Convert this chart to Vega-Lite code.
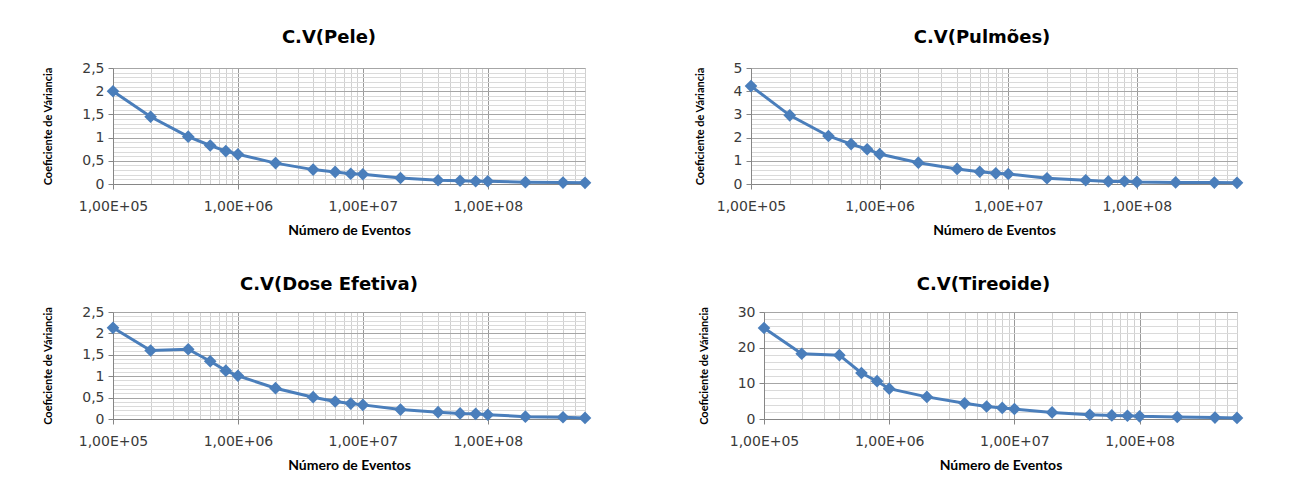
{
  "$schema": "https://vega.github.io/schema/vega-lite/v6.json",
  "background": "white",
  "padding": {"left": 42, "top": 28, "right": 5, "bottom": 5},
  "config": {
    "view": {"stroke": "#bfbfbf", "strokeWidth": 1},
    "title": {"font": "DejaVu Sans", "fontSize": 18, "fontWeight": "bold", "color": "#000000", "anchor": "middle", "offset": 14},
    "axis": {
      "labelFont": "DejaVu Sans", "labelFontSize": 14, "labelColor": "#3a3a3a",
      "titleFont": "Lato", "titleFontWeight": "bold", "titleColor": "#000000",
      "domainColor": "#868686", "tickColor": "#868686", "tickSize": 5,
      "labelOverlap": false, "labelBound": false, "labelFlush": false, "gridWidth": 1
    },
    "axisX": {"titleFontSize": 14, "labelPadding": 10, "titlePadding": 10},
    "axisY": {"titleFontSize": 11, "labelPadding": 4, "titlePadding": 28}
  },
  "data": {"values": [
    {"orgao": "Pele", "eventos": 100000, "cv": 2.0},
    {"orgao": "Pele", "eventos": 200000, "cv": 1.45},
    {"orgao": "Pele", "eventos": 400000, "cv": 1.02},
    {"orgao": "Pele", "eventos": 600000, "cv": 0.83},
    {"orgao": "Pele", "eventos": 800000, "cv": 0.71},
    {"orgao": "Pele", "eventos": 1000000, "cv": 0.64},
    {"orgao": "Pele", "eventos": 2000000, "cv": 0.45},
    {"orgao": "Pele", "eventos": 4000000, "cv": 0.31},
    {"orgao": "Pele", "eventos": 6000000, "cv": 0.26},
    {"orgao": "Pele", "eventos": 8000000, "cv": 0.22},
    {"orgao": "Pele", "eventos": 10000000, "cv": 0.21},
    {"orgao": "Pele", "eventos": 20000000, "cv": 0.13},
    {"orgao": "Pele", "eventos": 40000000, "cv": 0.08},
    {"orgao": "Pele", "eventos": 60000000, "cv": 0.07},
    {"orgao": "Pele", "eventos": 80000000, "cv": 0.06},
    {"orgao": "Pele", "eventos": 100000000, "cv": 0.06},
    {"orgao": "Pele", "eventos": 200000000, "cv": 0.04},
    {"orgao": "Pele", "eventos": 400000000, "cv": 0.03},
    {"orgao": "Pele", "eventos": 600000000, "cv": 0.025},
    {"orgao": "Pulmões", "eventos": 100000, "cv": 4.22},
    {"orgao": "Pulmões", "eventos": 200000, "cv": 2.96},
    {"orgao": "Pulmões", "eventos": 400000, "cv": 2.07},
    {"orgao": "Pulmões", "eventos": 600000, "cv": 1.72},
    {"orgao": "Pulmões", "eventos": 800000, "cv": 1.5},
    {"orgao": "Pulmões", "eventos": 1000000, "cv": 1.29},
    {"orgao": "Pulmões", "eventos": 2000000, "cv": 0.92},
    {"orgao": "Pulmões", "eventos": 4000000, "cv": 0.65},
    {"orgao": "Pulmões", "eventos": 6000000, "cv": 0.53},
    {"orgao": "Pulmões", "eventos": 8000000, "cv": 0.46},
    {"orgao": "Pulmões", "eventos": 10000000, "cv": 0.43},
    {"orgao": "Pulmões", "eventos": 20000000, "cv": 0.25},
    {"orgao": "Pulmões", "eventos": 40000000, "cv": 0.16},
    {"orgao": "Pulmões", "eventos": 60000000, "cv": 0.11},
    {"orgao": "Pulmões", "eventos": 80000000, "cv": 0.12},
    {"orgao": "Pulmões", "eventos": 100000000, "cv": 0.09},
    {"orgao": "Pulmões", "eventos": 200000000, "cv": 0.07},
    {"orgao": "Pulmões", "eventos": 400000000, "cv": 0.06},
    {"orgao": "Pulmões", "eventos": 600000000, "cv": 0.05},
    {"orgao": "Dose Efetiva", "eventos": 100000, "cv": 2.13},
    {"orgao": "Dose Efetiva", "eventos": 200000, "cv": 1.6},
    {"orgao": "Dose Efetiva", "eventos": 400000, "cv": 1.63},
    {"orgao": "Dose Efetiva", "eventos": 600000, "cv": 1.35},
    {"orgao": "Dose Efetiva", "eventos": 800000, "cv": 1.13},
    {"orgao": "Dose Efetiva", "eventos": 1000000, "cv": 1.01},
    {"orgao": "Dose Efetiva", "eventos": 2000000, "cv": 0.72},
    {"orgao": "Dose Efetiva", "eventos": 4000000, "cv": 0.51},
    {"orgao": "Dose Efetiva", "eventos": 6000000, "cv": 0.41},
    {"orgao": "Dose Efetiva", "eventos": 8000000, "cv": 0.36},
    {"orgao": "Dose Efetiva", "eventos": 10000000, "cv": 0.33},
    {"orgao": "Dose Efetiva", "eventos": 20000000, "cv": 0.22},
    {"orgao": "Dose Efetiva", "eventos": 40000000, "cv": 0.16},
    {"orgao": "Dose Efetiva", "eventos": 60000000, "cv": 0.13},
    {"orgao": "Dose Efetiva", "eventos": 80000000, "cv": 0.12},
    {"orgao": "Dose Efetiva", "eventos": 100000000, "cv": 0.1},
    {"orgao": "Dose Efetiva", "eventos": 200000000, "cv": 0.055},
    {"orgao": "Dose Efetiva", "eventos": 400000000, "cv": 0.04},
    {"orgao": "Dose Efetiva", "eventos": 600000000, "cv": 0.025},
    {"orgao": "Tireoide", "eventos": 100000, "cv": 25.5},
    {"orgao": "Tireoide", "eventos": 200000, "cv": 18.3},
    {"orgao": "Tireoide", "eventos": 400000, "cv": 17.9},
    {"orgao": "Tireoide", "eventos": 600000, "cv": 12.9},
    {"orgao": "Tireoide", "eventos": 800000, "cv": 10.6},
    {"orgao": "Tireoide", "eventos": 1000000, "cv": 8.5},
    {"orgao": "Tireoide", "eventos": 2000000, "cv": 6.2},
    {"orgao": "Tireoide", "eventos": 4000000, "cv": 4.4},
    {"orgao": "Tireoide", "eventos": 6000000, "cv": 3.5},
    {"orgao": "Tireoide", "eventos": 8000000, "cv": 3.1},
    {"orgao": "Tireoide", "eventos": 10000000, "cv": 2.8},
    {"orgao": "Tireoide", "eventos": 20000000, "cv": 1.85},
    {"orgao": "Tireoide", "eventos": 40000000, "cv": 1.2},
    {"orgao": "Tireoide", "eventos": 60000000, "cv": 1.0},
    {"orgao": "Tireoide", "eventos": 80000000, "cv": 0.9},
    {"orgao": "Tireoide", "eventos": 100000000, "cv": 0.75},
    {"orgao": "Tireoide", "eventos": 200000000, "cv": 0.55},
    {"orgao": "Tireoide", "eventos": 400000000, "cv": 0.4},
    {"orgao": "Tireoide", "eventos": 600000000, "cv": 0.3}
  ]},
  "vconcat": [
    {
      "hconcat": [
        {
          "width": 472, "height": 116,
          "title": {"text": "C.V(Pele)", "dx": -20},
          "transform": [{"filter": "datum.orgao == 'Pele'"}],
          "encoding": {
            "x": {"field": "eventos", "type": "quantitative",
              "scale": {"type": "log", "domain": [100000, 600000000], "nice": false},
              "axis": {"title": "Número de Eventos",
                "values": [100000,200000,300000,400000,500000,600000,700000,800000,900000,1000000,2000000,3000000,4000000,5000000,6000000,7000000,8000000,9000000,10000000,20000000,30000000,40000000,50000000,60000000,70000000,80000000,90000000,100000000,200000000,300000000,400000000,500000000,600000000],
                "labelExpr": "datum.value == 100000 ? '1,00E+05' : datum.value == 1000000 ? '1,00E+06' : datum.value == 10000000 ? '1,00E+07' : datum.value == 100000000 ? '1,00E+08' : ''",
                "gridColor": {"condition": {"test": "datum.value == 1000000 || datum.value == 10000000 || datum.value == 100000000", "value": "#9a9a9a"}, "value": "#d0d0d0"},
                "tickOpacity": {"condition": {"test": "datum.value == 100000 || datum.value == 1000000 || datum.value == 10000000 || datum.value == 100000000", "value": 1}, "value": 0}}},
            "y": {"field": "cv", "type": "quantitative",
              "scale": {"domain": [0, 2.5], "nice": false},
              "axis": {"title": "Coeficiente de Váriancia",
                "values": [0,0.1,0.2,0.3,0.4,0.5,0.6,0.7,0.8,0.9,1,1.1,1.2,1.3,1.4,1.5,1.6,1.7,1.8,1.9,2,2.1,2.2,2.3,2.4,2.5],
                "labelExpr": "abs(datum.value*2 - round(datum.value*2)) < 0.001 ? replace(toString(datum.value), '.', ',') : ''",
                "gridColor": {"condition": {"test": "abs(datum.value*2 - round(datum.value*2)) < 0.001", "value": "#a6a6a6"}, "value": "#dadada"},
                "tickOpacity": {"condition": {"test": "abs(datum.value*2 - round(datum.value*2)) < 0.001", "value": 1}, "value": 0}}}
          },
          "layer": [
            {"mark": {"type": "line", "color": "#4A7EBB", "strokeWidth": 3}},
            {"mark": {"type": "point", "shape": "diamond", "filled": true, "size": 160, "color": "#4A7EBB", "opacity": 1}}
          ]
        },
        {
          "width": 486, "height": 116,
          "title": {"text": "C.V(Pulmões)", "dx": -12},
          "transform": [{"filter": "datum.orgao == 'Pulmões'"}],
          "encoding": {
            "x": {"field": "eventos", "type": "quantitative",
              "scale": {"type": "log", "domain": [100000, 600000000], "nice": false},
              "axis": {"title": "Número de Eventos",
                "values": [100000,200000,300000,400000,500000,600000,700000,800000,900000,1000000,2000000,3000000,4000000,5000000,6000000,7000000,8000000,9000000,10000000,20000000,30000000,40000000,50000000,60000000,70000000,80000000,90000000,100000000,200000000,300000000,400000000,500000000,600000000],
                "labelExpr": "datum.value == 100000 ? '1,00E+05' : datum.value == 1000000 ? '1,00E+06' : datum.value == 10000000 ? '1,00E+07' : datum.value == 100000000 ? '1,00E+08' : ''",
                "gridColor": {"condition": {"test": "datum.value == 1000000 || datum.value == 10000000 || datum.value == 100000000", "value": "#9a9a9a"}, "value": "#d0d0d0"},
                "tickOpacity": {"condition": {"test": "datum.value == 100000 || datum.value == 1000000 || datum.value == 10000000 || datum.value == 100000000", "value": 1}, "value": 0}}},
            "y": {"field": "cv", "type": "quantitative",
              "scale": {"domain": [0, 5], "nice": false},
              "axis": {"title": "Coeficiente de Váriancia",
                "values": [0,0.2,0.4,0.6,0.8,1,1.2,1.4,1.6,1.8,2,2.2,2.4,2.6,2.8,3,3.2,3.4,3.6,3.8,4,4.2,4.4,4.6,4.8,5],
                "labelExpr": "abs(datum.value - round(datum.value)) < 0.001 ? toString(datum.value) : ''",
                "gridColor": {"condition": {"test": "abs(datum.value - round(datum.value)) < 0.001", "value": "#a6a6a6"}, "value": "#dadada"},
                "tickOpacity": {"condition": {"test": "abs(datum.value - round(datum.value)) < 0.001", "value": 1}, "value": 0}}}
          },
          "layer": [
            {"mark": {"type": "line", "color": "#4A7EBB", "strokeWidth": 3}},
            {"mark": {"type": "point", "shape": "diamond", "filled": true, "size": 160, "color": "#4A7EBB", "opacity": 1}}
          ]
        }
      ],
      "spacing": 101
    },
    {
      "hconcat": [
        {
          "width": 472, "height": 107,
          "title": {"text": "C.V(Dose Efetiva)", "offset": 11, "dx": -20},
          "transform": [{"filter": "datum.orgao == 'Dose Efetiva'"}],
          "encoding": {
            "x": {"field": "eventos", "type": "quantitative",
              "scale": {"type": "log", "domain": [100000, 600000000], "nice": false},
              "axis": {"title": "Número de Eventos",
                "values": [100000,200000,300000,400000,500000,600000,700000,800000,900000,1000000,2000000,3000000,4000000,5000000,6000000,7000000,8000000,9000000,10000000,20000000,30000000,40000000,50000000,60000000,70000000,80000000,90000000,100000000,200000000,300000000,400000000,500000000,600000000],
                "labelExpr": "datum.value == 100000 ? '1,00E+05' : datum.value == 1000000 ? '1,00E+06' : datum.value == 10000000 ? '1,00E+07' : datum.value == 100000000 ? '1,00E+08' : ''",
                "gridColor": {"condition": {"test": "datum.value == 1000000 || datum.value == 10000000 || datum.value == 100000000", "value": "#9a9a9a"}, "value": "#d0d0d0"},
                "tickOpacity": {"condition": {"test": "datum.value == 100000 || datum.value == 1000000 || datum.value == 10000000 || datum.value == 100000000", "value": 1}, "value": 0}}},
            "y": {"field": "cv", "type": "quantitative",
              "scale": {"domain": [0, 2.5], "nice": false},
              "axis": {"title": "Coeficiente de Váriancia",
                "values": [0,0.1,0.2,0.3,0.4,0.5,0.6,0.7,0.8,0.9,1,1.1,1.2,1.3,1.4,1.5,1.6,1.7,1.8,1.9,2,2.1,2.2,2.3,2.4,2.5],
                "labelExpr": "abs(datum.value*2 - round(datum.value*2)) < 0.001 ? replace(toString(datum.value), '.', ',') : ''",
                "gridColor": {"condition": {"test": "abs(datum.value*2 - round(datum.value*2)) < 0.001", "value": "#a6a6a6"}, "value": "#dadada"},
                "tickOpacity": {"condition": {"test": "abs(datum.value*2 - round(datum.value*2)) < 0.001", "value": 1}, "value": 0}}}
          },
          "layer": [
            {"mark": {"type": "line", "color": "#4A7EBB", "strokeWidth": 3}},
            {"mark": {"type": "point", "shape": "diamond", "filled": true, "size": 160, "color": "#4A7EBB", "opacity": 1}}
          ]
        },
        {
          "width": 473, "height": 107,
          "title": {"text": "C.V(Tireoide)", "offset": 11, "dx": -17},
          "transform": [{"filter": "datum.orgao == 'Tireoide'"}],
          "encoding": {
            "x": {"field": "eventos", "type": "quantitative",
              "scale": {"type": "log", "domain": [100000, 600000000], "nice": false},
              "axis": {"title": "Número de Eventos",
                "values": [100000,200000,300000,400000,500000,600000,700000,800000,900000,1000000,2000000,3000000,4000000,5000000,6000000,7000000,8000000,9000000,10000000,20000000,30000000,40000000,50000000,60000000,70000000,80000000,90000000,100000000,200000000,300000000,400000000,500000000,600000000],
                "labelExpr": "datum.value == 100000 ? '1,00E+05' : datum.value == 1000000 ? '1,00E+06' : datum.value == 10000000 ? '1,00E+07' : datum.value == 100000000 ? '1,00E+08' : ''",
                "gridColor": {"condition": {"test": "datum.value == 1000000 || datum.value == 10000000 || datum.value == 100000000", "value": "#9a9a9a"}, "value": "#d0d0d0"},
                "tickOpacity": {"condition": {"test": "datum.value == 100000 || datum.value == 1000000 || datum.value == 10000000 || datum.value == 100000000", "value": 1}, "value": 0}}},
            "y": {"field": "cv", "type": "quantitative",
              "scale": {"domain": [0, 30], "nice": false},
              "axis": {"title": "Coeficiente de Váriancia",
                "values": [0,2,4,6,8,10,12,14,16,18,20,22,24,26,28,30],
                "labelExpr": "datum.value % 10 == 0 ? toString(datum.value) : ''",
                "gridColor": {"condition": {"test": "datum.value % 10 == 0", "value": "#a6a6a6"}, "value": "#dadada"},
                "tickOpacity": {"condition": {"test": "datum.value % 10 == 0", "value": 1}, "value": 0}}}
          },
          "layer": [
            {"mark": {"type": "line", "color": "#4A7EBB", "strokeWidth": 3}},
            {"mark": {"type": "point", "shape": "diamond", "filled": true, "size": 160, "color": "#4A7EBB", "opacity": 1}}
          ]
        }
      ],
      "spacing": 105
    }
  ],
  "spacing": 37
}
